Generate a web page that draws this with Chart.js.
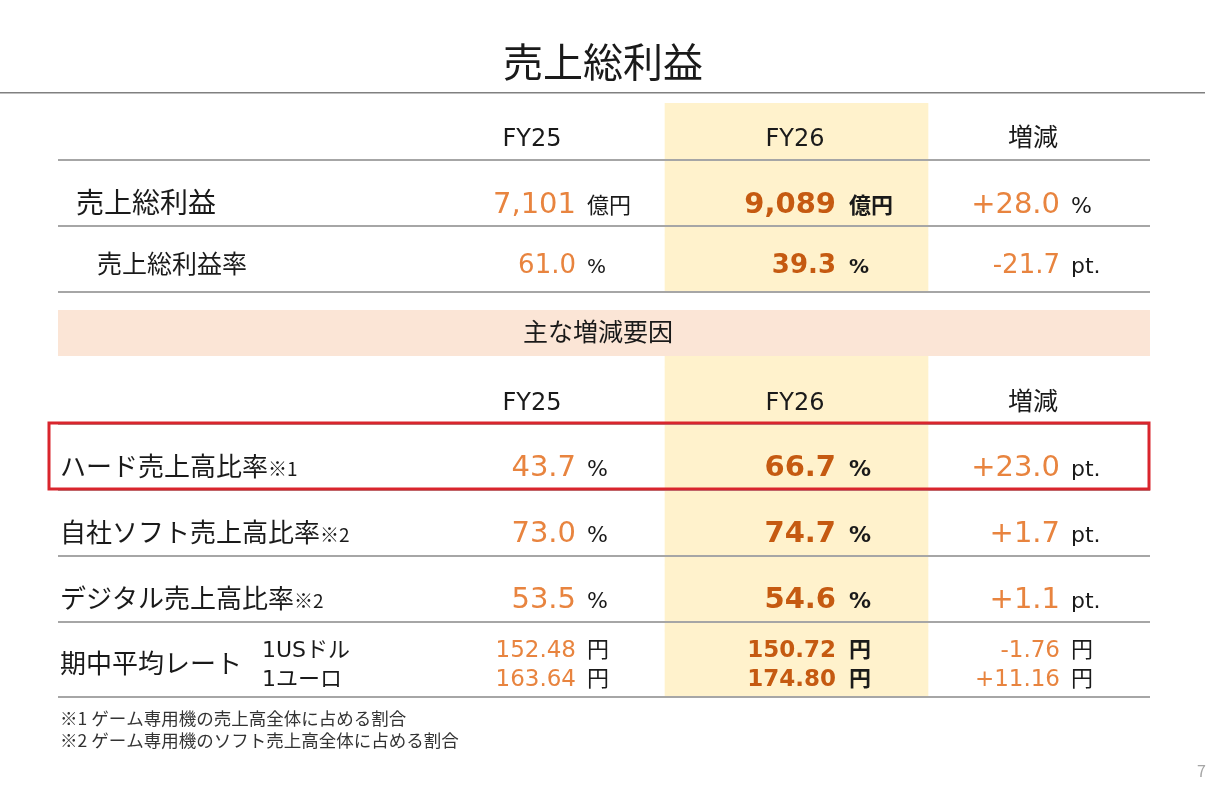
<!DOCTYPE html>
<html lang="ja">
<head>
<meta charset="utf-8">
<title>売上総利益</title>
<script src="https://cdn.jsdelivr.net/npm/chart.js@4.4.1/dist/chart.umd.min.js"></script>
<style>
  html, body { margin: 0; padding: 0; background: #fff; }
</style>
</head>
<body>
<canvas id="table" width="1225" height="806"></canvas>
<script>
// ---- data ----
const pageTitle = "売上総利益";
const columnNames = ["FY25", "FY26", "増減"];

const grossLabels = ["売上総利益", "売上総利益率"];
const grossFY25 = [7101, 61.0];
const grossFY26 = [9089, 39.3];
const grossChange = [28.0, -21.7];
const grossUnits = ["億円", "%"];
const grossChangeUnits = ["%", "pt."];

const factorTitle = "主な増減要因";
const factorLabels = ["ハード売上高比率", "自社ソフト売上高比率", "デジタル売上高比率"];
const factorNotes = ["※1", "※2", "※2"];
const factorFY25 = [43.7, 73.0, 53.5];
const factorFY26 = [66.7, 74.7, 54.6];
const factorChange = [23.0, 1.7, 1.1];

const rateLabel = "期中平均レート";
const rateNames = ["1USドル", "1ユーロ"];
const rateFY25 = [152.48, 163.64];
const rateFY26 = [150.72, 174.80];
const rateChange = [-1.76, 11.16];

const footnotes = [
  "※1 ゲーム専用機の売上高全体に占める割合",
  "※2 ゲーム専用機のソフト売上高全体に占める割合"
];
const pageNumber = "7";

// table rows, top to bottom (category axis)
const rowKeys = ["head1", "gross", "grossRate", "factors", "head2", "hard", "ownSoft", "digital", "rate"];

// ---- layout / style ----
const FONT = '"Noto Sans CJK JP", "Noto Sans", sans-serif';
const FONT_LATIN = '"DejaVu Sans", "Noto Sans CJK JP", sans-serif';
const INK = "#1a1a1a";
const ORANGE = "#E8843F";
const ORANGE_BOLD = "#C55A11";
const LINE = "#A6A6A6";

// x positions in table units (0 = left edge of the table)
const X = {
  fy26Start: 607, fy26End: 870,
  head: [474, 737, 975],
  numEnd: [518, 778, 1002],
  unitGap: [11, 13, 11],
  label: 2, grossLabel: [18, 39], rateSub: 204, center: 540
};

const fmtInt = v => v.toLocaleString("en-US");
const signed = (v, d) => (v > 0 ? "+" : "") + v.toFixed(d);
const isLatin = s => /^[\x20-\x7e]+$/.test(s);

function put(ctx, str, x, y, size, opts = {}) {
  const family = opts.latin || (opts.latin !== false && isLatin(str)) ? FONT_LATIN : FONT;
  ctx.font = (opts.bold ? "bold " : "") + size + "px " + family;
  ctx.fillStyle = opts.color || INK;
  ctx.textAlign = opts.align || "left";
  ctx.textBaseline = "alphabetic";
  ctx.fillText(str, x, y);
  return ctx.measureText(str).width;
}

// number right-aligned at the column anchor, unit just after it
function valueCell(ctx, px, col, num, unit, y, numSize, unitSize) {
  const bold = col === 1;
  put(ctx, num, px(X.numEnd[col]), y, numSize, { bold, color: bold ? ORANGE_BOLD : ORANGE, align: "right" });
  put(ctx, unit, px(X.numEnd[col] + X.unitGap[col]), y, isLatin(unit) ? unitSize - 2 : unitSize, { bold });
}

const tablePlugin = {
  id: "tableText",
  afterDatasetsDraw(chart) {
    const { ctx, chartArea: area, scales: { x, y } } = chart;
    const px = u => x.getPixelForValue(u);
    const cy = key => y.getPixelForValue(rowKeys.indexOf(key));
    const lineBelow = key => cy(key) + 24;
    ctx.save();

    // title and top rule
    put(ctx, pageTitle, px(X.center + 5), area.top - 26, 40, { align: "center" });
    ctx.fillStyle = "#808080";
    ctx.fillRect(0, area.top - 11, 1205, 1.5);

    // gap above the factor band, then the band itself
    const bandTop = cy("factors") - 24, bandBottom = cy("factors") + 22;
    ctx.fillStyle = "#ffffff";
    ctx.fillRect(area.left, lineBelow("grossRate") + 1, area.right - area.left + 2, bandTop - lineBelow("grossRate") - 1);
    ctx.fillStyle = "#FBE5D6";
    ctx.fillRect(area.left, bandTop, area.right - area.left + 2, bandBottom - bandTop);
    put(ctx, factorTitle, px(X.center), cy("factors") + 7, 25, { align: "center" });

    // row rules
    ctx.fillStyle = LINE;
    ["head1", "gross", "grossRate", "head2", "hard", "ownSoft", "digital"].forEach(k => {
      ctx.fillRect(area.left, lineBelow(k) - 1, area.right - area.left + 2, 2);
    });
    ctx.fillRect(area.left, area.bottom - 1, area.right - area.left + 2, 2);

    // column headers
    ["head1", "head2"].forEach(k => {
      columnNames.forEach((name, i) => put(ctx, name, px(X.head[i]), cy(k) + 10, isLatin(name) ? 24 : 25, { align: "center" }));
    });

    // gross profit rows
    ["gross", "grossRate"].forEach((k, i) => {
      const base = cy(k) + (i === 0 ? 11 : 5);
      const numSize = i === 0 ? 29 : 26;
      put(ctx, grossLabels[i], px(X.grossLabel[i]), base, i === 0 ? 28 : 25);
      const f = i === 0 ? fmtInt : v => v.toFixed(1);
      valueCell(ctx, px, 0, f(grossFY25[i]), grossUnits[i], base, numSize, 22);
      valueCell(ctx, px, 1, f(grossFY26[i]), grossUnits[i], base, numSize, 22);
      valueCell(ctx, px, 2, signed(grossChange[i], 1), grossChangeUnits[i], base, numSize, 24);
    });

    // factor rows
    ["hard", "ownSoft", "digital"].forEach((k, i) => {
      const base = cy(k) + 10;
      const w = put(ctx, factorLabels[i], px(X.label), base, 26);
      put(ctx, factorNotes[i], px(X.label) + w, base, 19, { latin: false });
      valueCell(ctx, px, 0, factorFY25[i].toFixed(1), "%", base, 29, 24);
      valueCell(ctx, px, 1, factorFY26[i].toFixed(1), "%", base, 29, 24);
      valueCell(ctx, px, 2, signed(factorChange[i], 1), "pt.", base, 29, 24);
    });

    // average exchange rate
    put(ctx, rateLabel, px(X.label), cy("rate") + 9, 26);
    rateNames.forEach((name, i) => {
      const base = cy("rate") + (i === 0 ? -7 : 22);
      put(ctx, name, px(X.rateSub), base, 22, { latin: true });
      valueCell(ctx, px, 0, rateFY25[i].toFixed(2), "円", base, 23, 22);
      valueCell(ctx, px, 1, rateFY26[i].toFixed(2), "円", base, 23, 22);
      valueCell(ctx, px, 2, signed(rateChange[i], 2), "円", base, 23, 22);
    });

    // red frame around the hardware row
    ctx.strokeStyle = "#D9252D";
    ctx.lineWidth = 3;
    ctx.strokeRect(area.left - 9, lineBelow("head2") - 1, area.right - area.left + 10, lineBelow("hard") - lineBelow("head2"));

    // footnotes and page number
    footnotes.forEach((t, i) => put(ctx, t, px(X.label), area.bottom + 28 + i * 22, 17.5, { color: "#333", latin: false }));
    put(ctx, pageNumber, chart.width - 28, 777, 16, { color: "#A6A6A6", latin: false });

    ctx.restore();
  }
};

new Chart(document.getElementById("table"), {
  type: "bar",
  data: {
    labels: rowKeys,
    datasets: [{
      label: columnNames[1],
      data: rowKeys.map(() => [X.fy26Start, X.fy26End]),
      backgroundColor: "#FFF2CC",
      borderWidth: 0,
      barPercentage: 1,
      categoryPercentage: 1
    }]
  },
  options: {
    indexAxis: "y",
    responsive: false,
    animation: false,
    layout: { padding: { left: 58, right: 77, top: 103, bottom: 109 } },
    plugins: {
      legend: { display: false },
      tooltip: { enabled: false },
      title: { display: false }
    },
    scales: {
      x: { type: "linear", min: 0, max: 1090, display: false },
      y: { type: "category", display: false }
    }
  },
  plugins: [tablePlugin]
});
</script>
</body>
</html>
